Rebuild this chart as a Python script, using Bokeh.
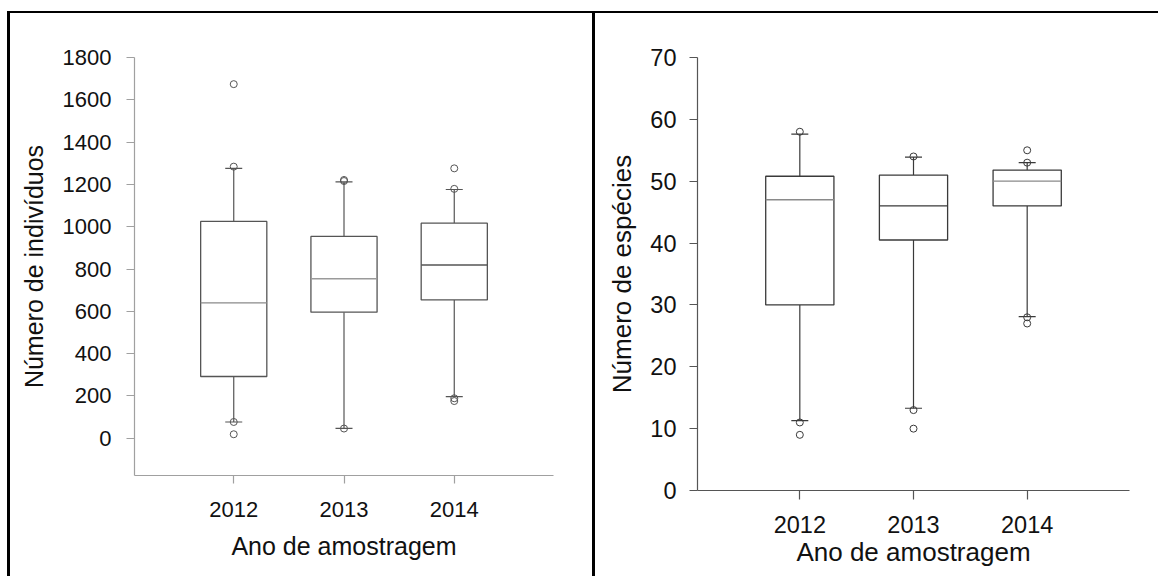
from bokeh.plotting import figure
from bokeh.layouts import row, column
from bokeh.models import (ColumnDataSource, FactorRange, Range1d, FixedTicker,
                          Whisker, TeeHead, Spacer)
from bokeh.embed import file_html
from bokeh.resources import INLINE

years = ["2012", "2013", "2014"]

# Número de indivíduos por ano
ind_q1 = [292, 596, 654]
ind_median = [640, 754, 819]
ind_q3 = [1025, 954, 1017]
ind_low = [77, 47, 197]
ind_high = [1276, 1212, 1176]
ind_out_year = ["2012", "2012", "2012", "2012", "2013", "2013", "2013",
                "2014", "2014", "2014", "2014"]
ind_out_value = [1674, 1284, 77, 19, 1221, 1216, 46, 1276, 1179, 189, 176]
ind_ticks = [0, 200, 400, 600, 800, 1000, 1200, 1400, 1600, 1800]

# Número de espécies por ano
esp_q1 = [30, 40.5, 46]
esp_median = [47, 46, 50]
esp_q3 = [50.8, 51, 51.8]
esp_low = [11.3, 13.3, 28.1]
esp_high = [57.6, 53.9, 53]
esp_out_year = ["2012", "2012", "2012", "2013", "2013", "2013",
                "2014", "2014", "2014", "2014"]
esp_out_value = [58, 11, 9, 54, 13, 10, 55, 53, 28, 27]
esp_ticks = [0, 10, 20, 30, 40, 50, 60, 70]

X_TITLE = "Ano de amostragem"
FONT = "Liberation Sans"
TEXT = "#111111"


def boxplot(q1, med, q3, low, high, out_year, out_val, y_start, y_end, ticks,
            y_title, width, height, borders, tick_px, title_px, axis_color,
            box_color, median_colors, standoffs, x_tick_len):
    left, right, top, bottom = borders
    p = figure(width=width, height=height,
               x_range=FactorRange(factors=years, range_padding=0.4,
                                   range_padding_units="absolute"),
               y_range=Range1d(y_start, y_end),
               output_backend="svg", toolbar_location=None,
               min_border_left=left, min_border_right=right,
               min_border_top=top, min_border_bottom=bottom)
    p.outline_line_color = None
    p.grid.visible = False
    p.background_fill_color = "white"
    p.border_fill_color = "white"

    src = ColumnDataSource(dict(year=years, q1=q1, med=med, q3=q3,
                                low=low, high=high, mcol=median_colors))

    upper = Whisker(source=src, base="year", lower="q3", upper="high",
                    line_color=box_color, line_width=1.2,
                    upper_head=TeeHead(size=17, line_color=box_color, line_width=1.2),
                    lower_head=None)
    lower = Whisker(source=src, base="year", lower="low", upper="q1",
                    line_color=box_color, line_width=1.2,
                    lower_head=TeeHead(size=17, line_color=box_color, line_width=1.2),
                    upper_head=None)
    p.add_layout(upper)
    p.add_layout(lower)

    p.vbar(x="year", top="q3", bottom="q1", width=0.6, source=src,
           fill_color="white", line_color=box_color, line_width=1.3)
    p.vbar(x="year", top="med", bottom="med", width=0.6, source=src,
           fill_color=None, line_color="mcol", line_width=1.3)

    p.scatter(x=out_year, y=out_val, marker="circle", size=7,
              fill_color=None, line_color=box_color, line_width=1)

    ylab_off, ytitle_off, xlab_off, xtitle_off = standoffs

    for ax in (p.xaxis[0], p.yaxis[0]):
        ax.axis_line_color = axis_color
        ax.axis_line_width = 1.2
        ax.major_tick_line_color = axis_color
        ax.major_tick_line_width = 1.2
        ax.major_tick_in = 0
        ax.major_tick_out = 8
        ax.minor_tick_line_color = None
        ax.major_label_text_font = FONT
        ax.major_label_text_font_size = f"{tick_px}px"
        ax.major_label_text_color = TEXT
        ax.axis_label_text_font = FONT
        ax.axis_label_text_font_size = f"{title_px}px"
        ax.axis_label_text_font_style = "normal"
        ax.axis_label_text_color = TEXT

    p.xaxis.major_tick_out = x_tick_len
    p.yaxis.ticker = FixedTicker(ticks=ticks)
    p.yaxis.axis_label = y_title
    p.yaxis.major_label_standoff = ylab_off
    p.yaxis.axis_label_standoff = ytitle_off
    p.xaxis.axis_label = X_TITLE
    p.xaxis.major_label_standoff = xlab_off
    p.xaxis.axis_label_standoff = xtitle_off
    return p


PANEL_H = 563

p1 = boxplot(ind_q1, ind_median, ind_q3, ind_low, ind_high,
             ind_out_year, ind_out_value, -176, 1800, ind_ticks,
             "Número de indivíduos", 582, PANEL_H, (124, 39, 44, 101),
             22, 25, "#a0a0a0", "#555555",
             ["#8a8a8a", "#9a9a9a", "#555555"], (15, 12, 18, 12), 8)

p2 = boxplot(esp_q1, esp_median, esp_q3, esp_low, esp_high,
             esp_out_year, esp_out_value, 0, 70, esp_ticks,
             "Número de espécies", 563, PANEL_H, (102, 29, 44, 86),
             23.5, 26, "#555555", "#3a3a3a",
             ["#8a8a8a", "#3a3a3a", "#8a8a8a"], (13, 10, 16, 1), 9)

black = {"background-color": "black"}
layout = column(
    Spacer(width=1158, height=11),
    row(Spacer(width=7, height=2), Spacer(width=1151, height=2, styles=black)),
    row(Spacer(width=7, height=PANEL_H),
        Spacer(width=3, height=PANEL_H, styles=black),
        column(p1),
        Spacer(width=3, height=PANEL_H, styles=black),
        column(p2)),
)

open("out.html", "w").write(file_html(layout, INLINE))
